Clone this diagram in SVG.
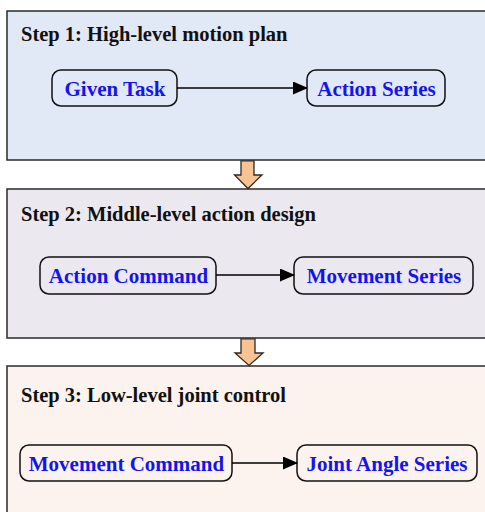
<svg xmlns="http://www.w3.org/2000/svg" width="485" height="512" viewBox="0 0 485 512">
<defs>
<style>
.stage{stroke:#2a2a2a;stroke-width:1.5}
.title{font-family:"Liberation Serif","Times New Roman",serif;font-weight:bold;font-size:20.5px;fill:#111}
.node rect{fill:none;stroke:#111;stroke-width:1.5}
.node text{font-family:"Liberation Serif","Times New Roman",serif;font-weight:bold;font-size:21px;fill:#1414f0;text-anchor:middle}
.conn{stroke:#000;stroke-width:1.5;fill:none}
.block{fill:#f8c291;stroke:#2a2a2a;stroke-width:1.3}
</style>
<marker id="ah" markerWidth="15" markerHeight="13" refX="14" refY="6.5" orient="auto" markerUnits="userSpaceOnUse">
<path d="M0,0 L15,6.5 L0,13 Z" fill="#000"/>
</marker>
</defs>

<g id="stage1">
<rect class="stage" x="7" y="11" width="490" height="149" fill="#e1e8f6"/>
<text class="title" x="21" y="41">Step 1: High-level motion plan</text>
</g>
<g id="stage2">
<rect class="stage" x="7" y="189" width="490" height="149" fill="#ebe8f0"/>
<text class="title" x="21" y="221">Step 2: Middle-level action design</text>
</g>
<g id="stage3">
<rect class="stage" x="7" y="366" width="490" height="160" fill="#fcf3ee"/>
<text class="title" x="21" y="402">Step 3: Low-level joint control</text>
</g>

<g id="n-given-task" class="node">
<rect x="52" y="70" width="125" height="36" rx="9"/>
<text x="115" y="95.5">Given Task</text>
</g>
<g id="n-action-series" class="node">
<rect x="307" y="70" width="138" height="36" rx="9"/>
<text x="376.5" y="95.5">Action Series</text>
</g>
<g id="n-action-command" class="node">
<rect x="40" y="257" width="176" height="37" rx="9"/>
<text x="128.5" y="283">Action Command</text>
</g>
<g id="n-movement-series" class="node">
<rect x="294" y="257" width="179" height="37" rx="9"/>
<text x="384" y="283">Movement Series</text>
</g>
<g id="n-movement-command" class="node">
<rect x="20" y="445" width="212" height="36" rx="9"/>
<text x="126.5" y="471">Movement Command</text>
</g>
<g id="n-joint-angle-series" class="node">
<rect x="297" y="445" width="180" height="36" rx="9"/>
<text x="387" y="471">Joint Angle Series</text>
</g>

<g id="connectors">
<line class="conn" x1="177" y1="88" x2="307" y2="88" marker-end="url(#ah)"/>
<line class="conn" x1="216" y1="275" x2="294" y2="275" marker-end="url(#ah)"/>
<line class="conn" x1="232" y1="463" x2="297" y2="463" marker-end="url(#ah)"/>
<path class="block" d="M241,160.8 L254,160.8 L254,175 L262,175 L248,188.5 L234.5,175 L241,175 Z"/>
<path class="block" d="M241,338.8 L255,338.8 L255,353 L263,353 L249,365.5 L235,353 L241,353 Z"/>
</g>
</svg>
